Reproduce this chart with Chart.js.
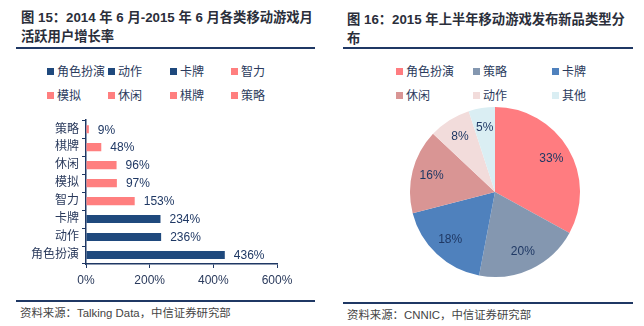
<!DOCTYPE html>
<html>
<head>
<meta charset="utf-8">
<script src="https://cdn.jsdelivr.net/npm/chart.js@4.4.1/dist/chart.umd.min.js"></script>
<style>
    body { margin: 0; width: 644px; height: 326px; background: #fff; position: relative; overflow: hidden;
           font-family: "Liberation Sans", "Noto Sans CJK SC", sans-serif; }
    .title { position: absolute; font-size: 13.3px; font-weight: bold; color: #2a2e3a; line-height: 19px; }
    .rule { position: absolute; background: #1f3864; }
    .source { position: absolute; font-size: 11.4px; color: #444; }
    .legend { position: absolute; display: grid; font-size: 12px; color: #2a3a5c; }
    .legend div { white-space: nowrap; height: 24px; line-height: 14px; }
    .legend span { display: inline-block; width: 7px; height: 7px; margin-right: 3px; vertical-align: 1px; }
    canvas { position: absolute; }
</style>
</head>
<body>

<div class="title" style="left:21px; top:8px;">图 15：2014 年 6 月-2015 年 6 月各类移动游戏月<br>活跃用户增长率</div>
<div class="rule" style="left:16px; top:47px; width:299px; height:2px;"></div>
<div class="legend" id="barLegend" style="left:47px; top:65px; grid-template-columns: 61px 62px 61px 61px;"></div>
<canvas id="bar-chart" width="322" height="190" style="left:0; top:110px;"></canvas>
<div class="rule" style="left:16px; top:300px; width:299px; height:2px;"></div>
<div class="source" style="left:20px; top:304px;">资料来源：Talking Data，中信证券研究部</div>

<div class="title" style="left:347px; top:10px;">图 16：2015 年上半年移动游戏发布新品类型分<br>布</div>
<div class="rule" style="left:343px; top:47px; width:290px; height:2px;"></div>
<div class="legend" id="pieLegend" style="left:396px; top:65px; grid-template-columns: 77px 79px 79px;"></div>
<canvas id="pie-chart" width="180" height="180" style="left:405px; top:102px;"></canvas>
<div class="rule" style="left:343px; top:302px; width:290px; height:2px;"></div>
<div class="source" style="left:347px; top:306px;">资料来源：CNNIC，中信证券研究部</div>

<script>
// growth of monthly active users by game type (%)
var barLabels = ['角色扮演', '动作', '卡牌', '智力', '模拟', '休闲', '棋牌', '策略'];
var barValues = [436, 236, 234, 153, 97, 96, 48, 9];
var barColors = ['#1f497d', '#1f497d', '#1f497d', '#ff7f7f', '#ff7f7f', '#ff7f7f', '#ff7f7f', '#ff7f7f'];
var barTicks = [0, 200, 400, 600];

// new game releases by type, H1 2015 (%)
var pieLabels = ['角色扮演', '策略', '卡牌', '休闲', '动作', '其他'];
var pieValues = [33, 20, 18, 16, 8, 5];
var pieColors = ['#ff7c80', '#8497b0', '#4f81bd', '#d99594', '#f2dcdb', '#daeef3'];

var navy = '#1f3864';
var textColor = '#2a3a5c';
Chart.defaults.font.family = '"Liberation Sans", "Noto Sans CJK SC", sans-serif';
Chart.defaults.font.size = 12;

function buildLegend(id, labels, colors) {
    var box = document.getElementById(id);
    labels.forEach(function (label, i) {
        var item = document.createElement('div');
        item.innerHTML = '<span style="background:' + colors[i] + '"></span>' + label;
        box.appendChild(item);
    });
}
buildLegend('barLegend', barLabels, barColors);
buildLegend('pieLegend', pieLabels, pieColors);

// value labels at the end of each bar
var barValueLabels = {
    id: 'barValueLabels',
    afterDatasetsDraw: function (chart) {
        var ctx = chart.ctx;
        var meta = chart.getDatasetMeta(0);
        ctx.save();
        ctx.font = '12px ' + Chart.defaults.font.family;
        ctx.fillStyle = navy;
        ctx.textAlign = 'left';
        ctx.textBaseline = 'middle';
        meta.data.forEach(function (bar, i) {
            ctx.fillText(chart.data.datasets[0].data[i] + '%', bar.x + 9, bar.y + 1);
        });
        ctx.restore();
    }
};

// percentage labels inside each slice
var pieValueLabels = {
    id: 'pieValueLabels',
    afterDatasetsDraw: function (chart) {
        var ctx = chart.ctx;
        var meta = chart.getDatasetMeta(0);
        ctx.save();
        ctx.font = '12px ' + Chart.defaults.font.family;
        ctx.fillStyle = navy;
        ctx.textAlign = 'center';
        ctx.textBaseline = 'middle';
        meta.data.forEach(function (arc, i) {
            var mid = (arc.startAngle + arc.endAngle) / 2;
            var r = arc.outerRadius * 0.77;
            ctx.fillText(chart.data.datasets[0].data[i] + '%', arc.x + Math.cos(mid) * r, arc.y + Math.sin(mid) * r);
        });
        ctx.restore();
    }
};

var myBarChart = new Chart(document.getElementById('bar-chart').getContext('2d'), {
    type: 'bar',
    data: {
        labels: barLabels,
        datasets: [{
            data: barValues,
            backgroundColor: barColors,
            categoryPercentage: 1,
            barPercentage: 0.45
        }]
    },
    options: {
        indexAxis: 'y',
        responsive: false,
        animation: false,
        layout: { padding: { top: 10, right: 45, left: 0, bottom: 0 } },
        plugins: { legend: { display: false }, tooltip: { enabled: false } },
        scales: {
            x: {
                min: 0,
                max: 600,
                afterBuildTicks: function (scale) {
                    scale.ticks = barTicks.map(function (v) { return { value: v }; });
                },
                afterFit: function (scale) { scale.height = 36; },
                ticks: { color: textColor, padding: 5, callback: function (v) { return v + '%'; } },
                grid: { drawOnChartArea: false, drawTicks: true, tickLength: 4, color: navy, lineWidth: 1 },
                border: { display: true, color: navy, width: 1.5 }
            },
            y: {
                reverse: true,
                afterFit: function (scale) { scale.width = 86; },
                ticks: { color: textColor, padding: 3 },
                grid: { drawOnChartArea: false, drawTicks: true, tickLength: 4, color: navy, lineWidth: 1 },
                border: { display: true, color: navy, width: 1.5 }
            }
        }
    },
    plugins: [barValueLabels]
});

var myPieChart = new Chart(document.getElementById('pie-chart').getContext('2d'), {
    type: 'pie',
    data: {
        labels: pieLabels,
        datasets: [{
            data: pieValues,
            backgroundColor: pieColors,
            borderWidth: 0
        }]
    },
    options: {
        responsive: false,
        animation: false,
        layout: { padding: 5 },
        plugins: { legend: { display: false }, tooltip: { enabled: false } }
    },
    plugins: [pieValueLabels]
});
</script>
</body>
</html>
